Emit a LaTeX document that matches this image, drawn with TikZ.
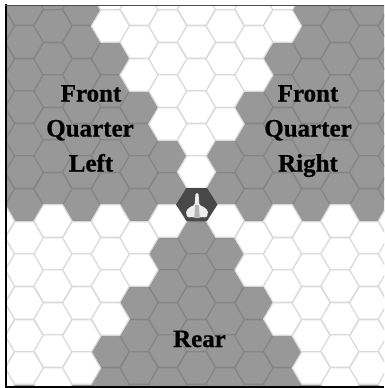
\documentclass[tikz,border=0pt]{standalone}
\usepackage{fontspec}
\setmainfont[BoldFeatures={FakeBold=0.7}]{Liberation Serif}
\tikzset{
  px/.style={x=1pt,y=-1pt},
  hexgrey/.style={fill=hexg,draw=hexgl,line width=1.2pt,line join=round},
  hexwhite/.style={fill=white,draw=hexwl,line width=1.2pt,line join=round},
  lbl/.style={font=\fontsize{25}{25}\selectfont\bfseries,text=black,inner sep=0pt,anchor=base},
}
\definecolor{hexg}{HTML}{989898}
\definecolor{hexgl}{HTML}{858585}
\definecolor{hexwl}{HTML}{DADADA}
\definecolor{shipd}{HTML}{484848}
\definecolor{shipl}{HTML}{EDEDED}
\definecolor{shipm}{HTML}{B4B4B4}
\newcommand{\hexat}[3]{% style, col, y
  \pgfmathsetmacro{\hx}{196.5+28.7*(#2)}
  \path[#1] (\hx+19.1,#3) -- (\hx+9.55,#3+16.3) -- (\hx-9.55,#3+16.3) -- (\hx-19.1,#3) -- (\hx-9.55,#3-16.3) -- (\hx+9.55,#3-16.3) -- cycle;
}
\begin{document}
\begin{tikzpicture}[px]
\useasboundingbox (0,0) rectangle (384,388);
\fill[white] (0,0) rectangle (384,388);
\begin{scope}
\clip (5,5) rectangle (384,387);
\fill[hexg] (5,5) rectangle (384,387);
% grey cells
\foreach \c/\ys in {
 -7/{26,59,91,124,156,189},
 -6/{9,42,75,107,140,172,205},
 -5/{26,59,91,124,156,189},
 -4/{9,42,75,107,140,172,205},
 -3/{58.5,91,124,156,189,351,384},
 -2/{107,140,172,205,303,336,368},
 -1/{156.5,189,254,286,319,351,384},
 0/{238,270,303,336,368},
 1/{156.5,189,254,286,319,351,384},
 2/{107,140,172,205,303,336,368},
 3/{58.5,91,124,156,189,351,384},
 4/{9,42,75,107,140,172,205},
 5/{26,59,91,124,156,189},
 6/{9,42,75,107,140,172,205},
 7/{26,59,91,124,156,189}}{
  \foreach \y in \ys {\hexat{hexgrey}{\c}{\y}}
}
% white cells
\foreach \c/\ys in {
 -7/{221,254,286,319,351,384},
 -6/{238,270,303,336,368},
 -5/{221,254,286,319,351,384},
 -4/{238,270,303,336,368},
 -3/{-6,26,221,254,286,319},
 -2/{9,42,75,238,270},
 -1/{-6,26,59,91,124,221},
 0/{9,42,75,107,140,172},
 1/{-6,26,59,91,124,221},
 2/{9,42,75,238,270},
 3/{-6,26,221,254,286,319},
 4/{238,270,303,336,368},
 5/{221,254,286,319,351,384},
 6/{238,270,303,336,368},
 7/{221,254,286,319,351,384}}{
  \foreach \y in \ys {\hexat{hexwhite}{\c}{\y}}
}
\end{scope}
% ship
\fill[shipd] (217.5,204.5) -- (207,221) -- (186.5,221) -- (176,204.5) -- (186.5,188) -- (207,188) -- cycle;
\fill[shipl,rounded corners=1.5pt] (195.5,193) -- (198.5,193) -- (199.3,205) -- (204,207) -- (207.5,210) -- (208,214) -- (206,218) -- (202,216.5) -- (200,218) -- (197,215) -- (194,218) -- (192,216.5) -- (188,218) -- (186,214) -- (186.5,210) -- (190,207) -- (194.7,205) -- cycle;
\fill[shipm] (195.2,205) -- (198.8,205) -- (199.8,218) -- (194.2,218) -- cycle;
% frame
\draw[black,line width=2pt] (5.7,4) -- (5.7,388);
\draw[black!70,line width=1pt] (5,5) -- (384,5);
\draw[black,line width=1.3pt] (5,387) -- (384,387);
% labels
\node[lbl] (fl1) at (91,101.5) {Front};
\node[lbl] (fl2) at (90,136.5) {Quarter};
\node[lbl] (fl3) at (91,171.5) {Left};
\node[lbl] (fr1) at (308,101.5) {Front};
\node[lbl] (fr2) at (308,136.5) {Quarter};
\node[lbl] (fr3) at (308,171.5) {Right};
\node[lbl] (rr) at (199.5,347) {Rear};
\end{tikzpicture}
\end{document}
